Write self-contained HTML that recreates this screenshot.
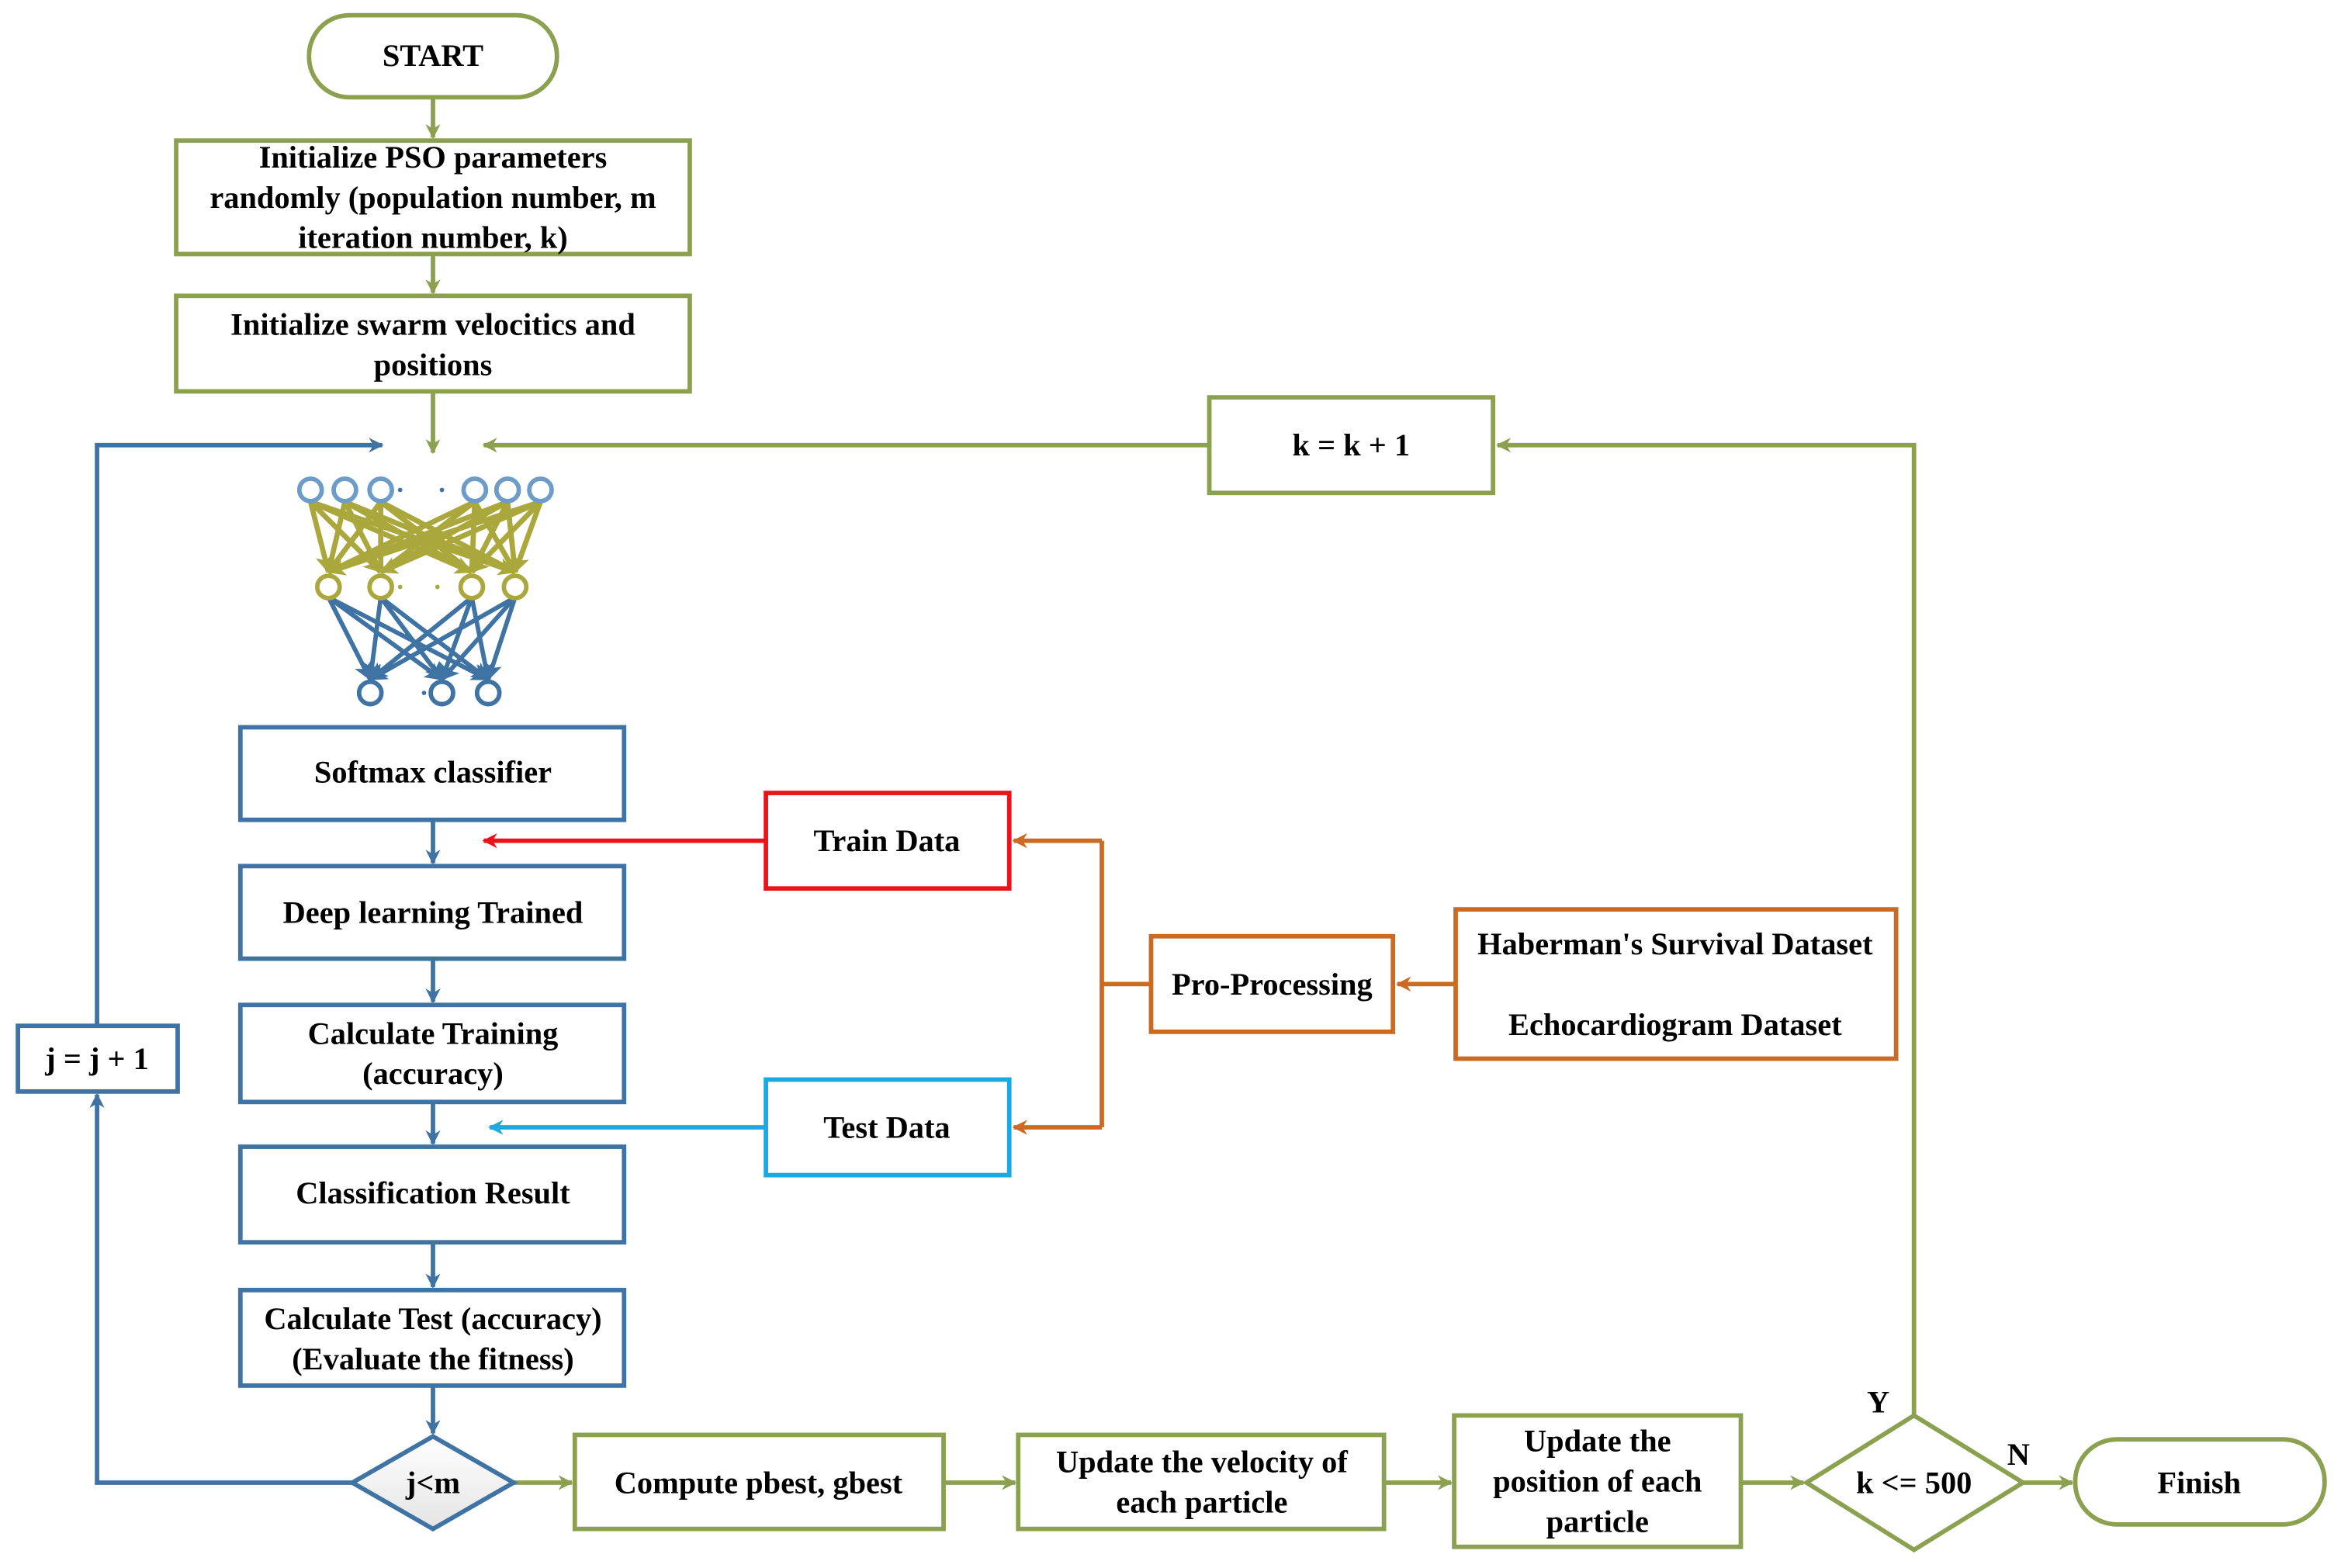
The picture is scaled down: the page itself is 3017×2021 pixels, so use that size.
<!DOCTYPE html>
<html><head><meta charset="utf-8"><style>html,body{margin:0;padding:0;background:#fff}svg{display:block}
svg text{font-family:"Liberation Serif","Times New Roman","DejaVu Serif",serif;font-weight:bold;font-size:21px}</style></head>
<body>
<svg width="3017" height="2021" viewBox="0 0 1568 1050" xmlns="http://www.w3.org/2000/svg" text-anchor="middle">
<defs>
<marker id="ag" markerWidth="10" markerHeight="10" refX="9" refY="5" orient="auto" markerUnits="userSpaceOnUse"><path d="M0,0 L10,5 L0,10 L3,5 z" fill="#8ba150"/></marker>
<marker id="ab" markerWidth="10" markerHeight="10" refX="9" refY="5" orient="auto" markerUnits="userSpaceOnUse"><path d="M0,0 L10,5 L0,10 L3,5 z" fill="#3f73a3"/></marker>
<marker id="ao" markerWidth="10" markerHeight="10" refX="9" refY="5" orient="auto" markerUnits="userSpaceOnUse"><path d="M0,0 L10,5 L0,10 L3,5 z" fill="#cc6a22"/></marker>
<marker id="ar" markerWidth="10" markerHeight="10" refX="9" refY="5" orient="auto" markerUnits="userSpaceOnUse"><path d="M0,0 L10,5 L0,10 L3,5 z" fill="#e8141c"/></marker>
<marker id="ac" markerWidth="10" markerHeight="10" refX="9" refY="5" orient="auto" markerUnits="userSpaceOnUse"><path d="M0,0 L10,5 L0,10 L3,5 z" fill="#1aa9e0"/></marker>
<marker id="ay" markerWidth="12" markerHeight="12" refX="11" refY="6" orient="auto" markerUnits="userSpaceOnUse"><path d="M0,0 L12,6 L0,12 L3,6 z" fill="#aaa83c"/></marker>
<marker id="an" markerWidth="12" markerHeight="12" refX="11" refY="6" orient="auto" markerUnits="userSpaceOnUse"><path d="M0,0 L12,6 L0,12 L3,6 z" fill="#3f73a3"/></marker>
<linearGradient id="dg" x1="0" y1="0" x2="0" y2="1"><stop offset="0" stop-color="#fff"/><stop offset="1" stop-color="#e4e4e4"/></linearGradient>
</defs>

<g fill="none" stroke-width="3">
<g stroke="#8ba150">
<line x1="290" y1="66" x2="290" y2="92" marker-end="url(#ag)"/>
<line x1="290" y1="171" x2="290" y2="196" marker-end="url(#ag)"/>
<line x1="290" y1="263" x2="290" y2="303" marker-end="url(#ag)"/>
<line x1="810" y1="298" x2="324" y2="298" marker-end="url(#ag)"/>
<polyline points="1282,947 1282,298 1003,298" marker-end="url(#ag)"/>
<line x1="344" y1="993" x2="383" y2="993" marker-end="url(#ag)"/>
<line x1="633" y1="993" x2="680" y2="993" marker-end="url(#ag)"/>
<line x1="928" y1="993" x2="972" y2="993" marker-end="url(#ag)"/>
<line x1="1167" y1="993" x2="1208" y2="993" marker-end="url(#ag)"/>
<line x1="1355" y1="993" x2="1388" y2="993" marker-end="url(#ag)"/>
</g>
<g stroke="#3f73a3">
<polyline points="65,686 65,298 256,298" marker-end="url(#ab)"/>
<polyline points="236,993 65,993 65,733" marker-end="url(#ab)"/>
<line x1="290" y1="550" x2="290" y2="578" marker-end="url(#ab)"/>
<line x1="290" y1="643" x2="290" y2="671" marker-end="url(#ab)"/>
<line x1="290" y1="739" x2="290" y2="766" marker-end="url(#ab)"/>
<line x1="290" y1="833" x2="290" y2="862" marker-end="url(#ab)"/>
<line x1="290" y1="929" x2="290" y2="960" marker-end="url(#ab)"/>
</g>
<line x1="513" y1="563" x2="324" y2="563" stroke="#e8141c" marker-end="url(#ar)"/>
<line x1="513" y1="755" x2="328" y2="755" stroke="#1aa9e0" marker-end="url(#ac)"/>
<g stroke="#cc6a22">
<line x1="771" y1="659" x2="738" y2="659"/>
<polyline points="738,563 738,755"/>
<line x1="738" y1="563" x2="679" y2="563" marker-end="url(#ao)"/>
<line x1="738" y1="755" x2="679" y2="755" marker-end="url(#ao)"/>
<line x1="975" y1="659" x2="936" y2="659" marker-end="url(#ao)"/>
</g>
</g>

<g stroke-width="3.5">
<g stroke="#aaa83c">
<line x1="208" y1="336" x2="220" y2="383" marker-end="url(#ay)"/><line x1="208" y1="336" x2="255" y2="383" marker-end="url(#ay)"/><line x1="208" y1="336" x2="316" y2="383" marker-end="url(#ay)"/><line x1="208" y1="336" x2="345" y2="383" marker-end="url(#ay)"/>
<line x1="231" y1="336" x2="220" y2="383"/><line x1="231" y1="336" x2="255" y2="383"/><line x1="231" y1="336" x2="316" y2="383"/><line x1="231" y1="336" x2="345" y2="383"/>
<line x1="255" y1="336" x2="220" y2="383"/><line x1="255" y1="336" x2="255" y2="383"/><line x1="255" y1="336" x2="316" y2="383"/><line x1="255" y1="336" x2="345" y2="383"/>
<line x1="318" y1="336" x2="220" y2="383"/><line x1="318" y1="336" x2="255" y2="383"/><line x1="318" y1="336" x2="316" y2="383"/><line x1="318" y1="336" x2="345" y2="383"/>
<line x1="340" y1="336" x2="220" y2="383"/><line x1="340" y1="336" x2="255" y2="383"/><line x1="340" y1="336" x2="316" y2="383"/><line x1="340" y1="336" x2="345" y2="383"/>
<line x1="362" y1="336" x2="220" y2="383" marker-end="url(#ay)"/><line x1="362" y1="336" x2="255" y2="383" marker-end="url(#ay)"/><line x1="362" y1="336" x2="316" y2="383" marker-end="url(#ay)"/><line x1="362" y1="336" x2="345" y2="383" marker-end="url(#ay)"/>
</g>
<g stroke="#3f73a3" stroke-width="3">
<line x1="220" y1="400" x2="248" y2="455" marker-end="url(#an)"/><line x1="220" y1="400" x2="296" y2="455" marker-end="url(#an)"/><line x1="220" y1="400" x2="327" y2="455" marker-end="url(#an)"/>
<line x1="255" y1="400" x2="248" y2="455" marker-end="url(#an)"/><line x1="255" y1="400" x2="296" y2="455" marker-end="url(#an)"/><line x1="255" y1="400" x2="327" y2="455" marker-end="url(#an)"/>
<line x1="316" y1="400" x2="248" y2="455" marker-end="url(#an)"/><line x1="316" y1="400" x2="296" y2="455" marker-end="url(#an)"/><line x1="316" y1="400" x2="327" y2="455" marker-end="url(#an)"/>
<line x1="345" y1="400" x2="248" y2="455" marker-end="url(#an)"/><line x1="345" y1="400" x2="296" y2="455" marker-end="url(#an)"/><line x1="345" y1="400" x2="327" y2="455" marker-end="url(#an)"/>
</g>
<g fill="#fff" stroke="#6d9cc8" stroke-width="3">
<circle cx="208" cy="328" r="7.5"/><circle cx="231" cy="328" r="7.5"/><circle cx="255" cy="328" r="7.5"/>
<circle cx="318" cy="328" r="7.5"/><circle cx="340" cy="328" r="7.5"/><circle cx="362" cy="328" r="7.5"/>
</g>
<g fill="#fff" stroke="#aaa83c" stroke-width="3">
<circle cx="220" cy="393" r="7.5"/><circle cx="255" cy="393" r="7.5"/><circle cx="316" cy="393" r="7.5"/><circle cx="345" cy="393" r="7.5"/>
</g>
<g fill="#fff" stroke="#3f73a3" stroke-width="3">
<circle cx="248" cy="464" r="7.5"/><circle cx="296" cy="464" r="7.5"/><circle cx="327" cy="464" r="7.5"/>
</g>
<g stroke="none"><circle cx="268" cy="328" r="1.5" fill="#3f73a3"/><circle cx="296" cy="328" r="1.5" fill="#3f73a3"/><circle cx="268" cy="393" r="1.5" fill="#aaa83c"/><circle cx="293" cy="393" r="1.5" fill="#aaa83c"/><circle cx="284" cy="464" r="1.5" fill="#3f73a3"/></g>
</g>

<g fill="#fff" stroke-width="3">
<g stroke="#8ba150">
<rect x="207" y="10" width="166" height="55" rx="27"/>
<rect x="118" y="94" width="344" height="76"/>
<rect x="118" y="198" width="344" height="64"/>
<rect x="810" y="266" width="190" height="64"/>
<rect x="385" y="961" width="247" height="63"/>
<rect x="682" y="961" width="245" height="63"/>
<rect x="974" y="948" width="192" height="88"/>
<polygon points="1282,948 1355,993 1282,1038 1210,993"/>
<rect x="1390" y="964" width="167" height="57" rx="28"/>
</g>
<g stroke="#3f73a3">
<rect x="161" y="487" width="257" height="62"/>
<rect x="161" y="580" width="257" height="62"/>
<rect x="161" y="673" width="257" height="65"/>
<rect x="161" y="768" width="257" height="64"/>
<rect x="161" y="864" width="257" height="64"/>
<rect x="12" y="687" width="107" height="44"/>
<polygon points="290,962 344,993 290,1024 236,993" fill="url(#dg)"/>
</g>
<rect x="513" y="531" width="163" height="64" stroke="#e8141c"/>
<rect x="513" y="723" width="163" height="64" stroke="#1aa9e0"/>
<g stroke="#cc6a22">
<rect x="771" y="627" width="162" height="64"/>
<rect x="975" y="609" width="295" height="100"/>
</g>
</g>

<g fill="#000">
<text x="290" y="44">START</text>
<text x="290" y="112">Initialize PSO parameters</text>
<text x="290" y="139">randomly (population number, m</text>
<text x="290" y="166">iteration number, k)</text>
<text x="290" y="224">Initialize swarm velocitics and</text>
<text x="290" y="251">positions</text>
<text x="905" y="305">k = k + 1</text>
<text x="290" y="524">Softmax classifier</text>
<text x="290" y="618">Deep learning Trained</text>
<text x="290" y="699">Calculate Training</text>
<text x="290" y="726">(accuracy)</text>
<text x="290" y="806">Classification Result</text>
<text x="290" y="890">Calculate Test (accuracy)</text>
<text x="290" y="917">(Evaluate the fitness)</text>
<text x="65" y="716">j = j + 1</text>
<text x="290" y="1000">j&lt;m</text>
<text x="594" y="570">Train Data</text>
<text x="594" y="762">Test Data</text>
<text x="852" y="666">Pro-Processing</text>
<text x="1122" y="639">Haberman's Survival Dataset</text>
<text x="1122" y="693">Echocardiogram Dataset</text>
<text x="508" y="1000">Compute pbest, gbest</text>
<text x="805" y="986">Update the velocity of</text>
<text x="805" y="1013">each particle</text>
<text x="1070" y="972">Update the</text>
<text x="1070" y="999">position of each</text>
<text x="1070" y="1026">particle</text>
<text x="1282" y="1000">k &lt;= 500</text>
<text x="1473" y="1000">Finish</text>
<text x="1258" y="946">Y</text>
<text x="1352" y="981">N</text>
</g>
</svg>
</body></html>
